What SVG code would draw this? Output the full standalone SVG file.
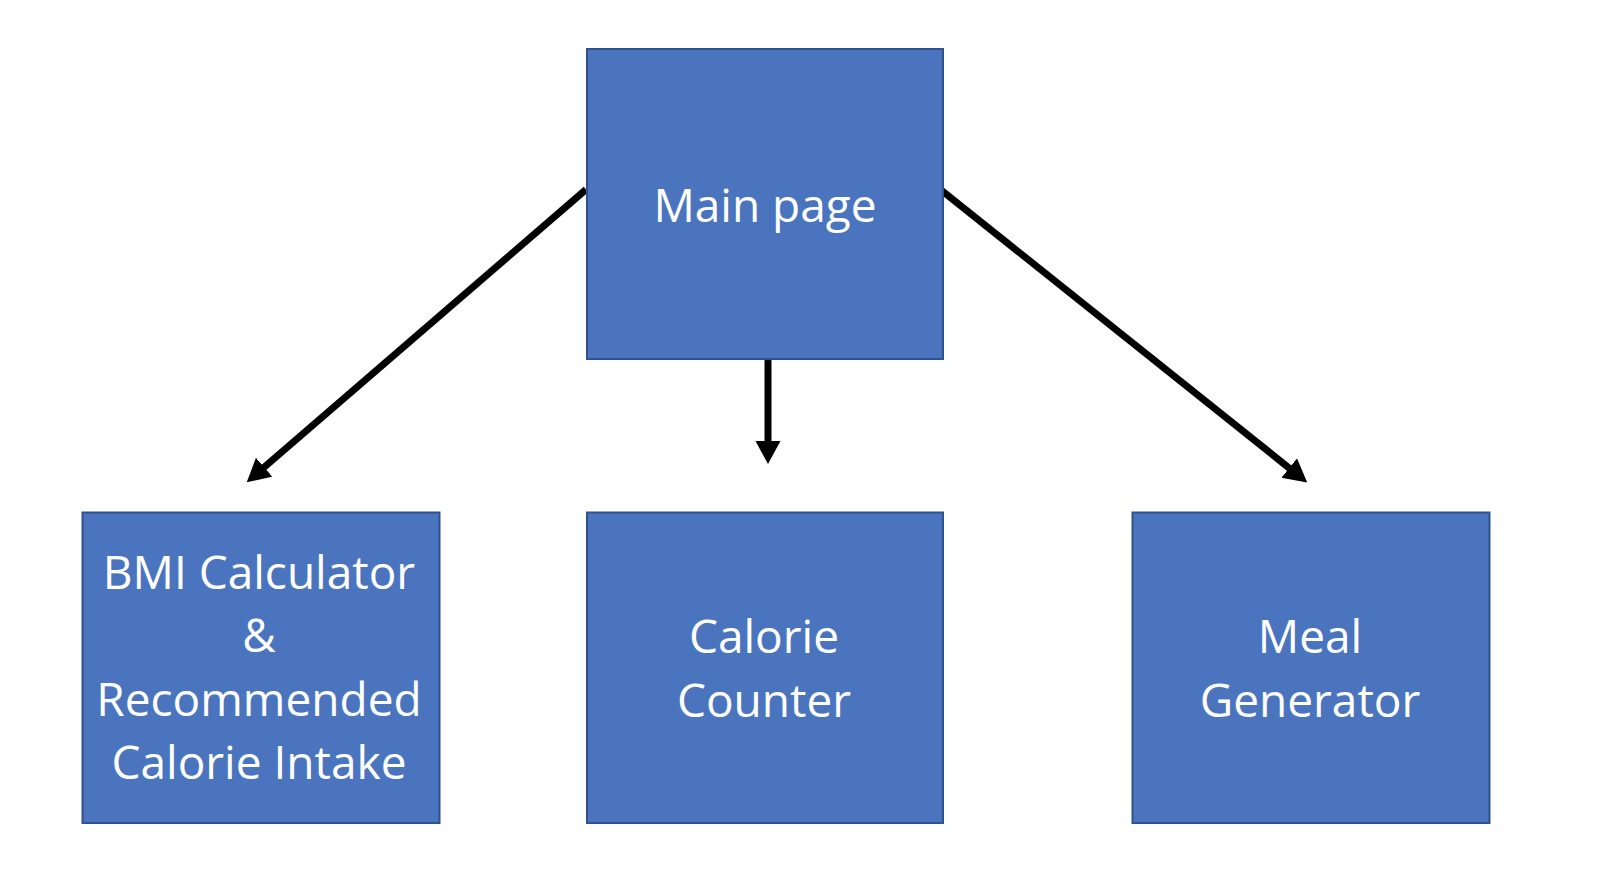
<svg xmlns="http://www.w3.org/2000/svg" width="1602" height="888" viewBox="0 0 1602 888">
  <style>
    .box { fill: #4A75BE; stroke: #2F528F; stroke-width: 2; }
    .lbl { fill: #FFFFFF; font-family: "Open Sans", "Liberation Sans", sans-serif; font-size: 46px; text-anchor: middle; }
    .conn { stroke: #000000; stroke-width: 7; fill: none; marker-end: url(#arrow); }
  </style>
  <defs>
    <marker id="arrow" markerUnits="userSpaceOnUse" markerWidth="26" markerHeight="26" refX="1" refY="12.5" orient="auto">
      <path d="M0,0 L23,12.5 L0,25 Z" fill="#000000"/>
    </marker>
  </defs>
  <rect width="1602" height="888" fill="#FFFFFF"/>
  <g id="connectors">
    <line class="conn" x1="586" y1="189.5" x2="263.4" y2="467.9"/>
    <line class="conn" x1="768" y1="359" x2="768" y2="442"/>
    <line class="conn" x1="941" y1="190" x2="1290" y2="468.7"/>
  </g>
  <g id="main-page">
    <rect class="box" x="587" y="49" width="356" height="310"/>
    <text class="lbl" x="765" y="222">Main page</text>
  </g>
  <g id="bmi-calculator">
    <rect class="box" x="82.5" y="512.5" width="357" height="310.5"/>
    <text class="lbl" x="259" y="589">BMI Calculator</text>
    <text class="lbl" x="259" y="652">&amp;</text>
    <text class="lbl" x="259" y="715.5">Recommended</text>
    <text class="lbl" x="259" y="779">Calorie Intake</text>
  </g>
  <g id="calorie-counter">
    <rect class="box" x="587" y="512.5" width="356" height="310.5"/>
    <text class="lbl" x="764" y="653">Calorie</text>
    <text class="lbl" x="764" y="716.5">Counter</text>
  </g>
  <g id="meal-generator">
    <rect class="box" x="1132.5" y="512.5" width="357" height="310.5"/>
    <text class="lbl" x="1310" y="653">Meal</text>
    <text class="lbl" x="1310" y="716.5">Generator</text>
  </g>
</svg>
